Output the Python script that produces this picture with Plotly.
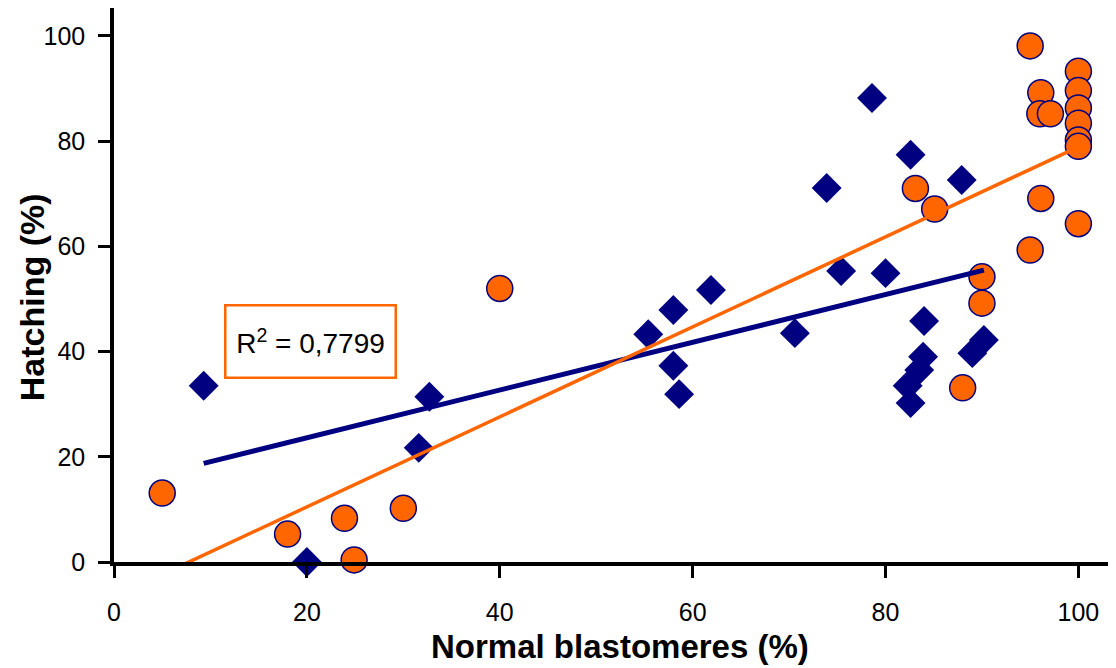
import numpy as np
import plotly.graph_objects as go

# Blue series (diamonds)
blue_x = [9.3, 20.0, 31.6, 32.7, 55.4, 58.0, 58.0, 58.6, 61.9, 70.6, 73.9, 75.4,
          78.6, 80.0, 82.6, 87.9, 84.0, 83.9, 83.5, 82.3, 82.6, 89.0, 90.2]
blue_y = [33.5, 0.0, 21.7, 31.4, 43.3, 47.9, 37.3, 31.9, 51.7, 43.5, 71.1, 55.3,
          88.2, 54.9, 77.4, 72.6, 45.8, 39.0, 36.5, 33.5, 30.2, 39.7, 42.2]

# Orange series (circles)
orange_x = [5.0, 18.0, 23.9, 24.9, 30.0, 40.0, 83.1, 85.1, 88.0, 90.0, 90.0, 95.0,
            95.0, 96.1, 96.0, 97.1, 96.1, 100, 100, 100, 100, 100, 100, 100]
orange_y = [13.1, 5.3, 8.3, 0.4, 10.2, 52.0, 71.0, 67.1, 33.1, 54.2, 49.2, 59.3,
            98.1, 89.2, 85.2, 85.2, 69.1, 93.3, 89.6, 86.3, 83.4, 80.2, 79.0, 64.3]

x_ticks = [0, 20, 40, 60, 80, 100]
y_ticks = [0, 20, 40, 60, 80, 100]
r2_label = "R<sup>2</sup> = 0,7799"

NAVY = "#000080"
ORANGE = "#FF6600"
FONT = "Liberation Sans, Arial, sans-serif"

def fit_line(xs, ys):
    a, b = np.polyfit(xs, ys, 1)
    x0, x1 = min(xs), max(xs)
    return [x0, x1], [a * x0 + b, a * x1 + b]

fig = go.Figure()

bx, by = fit_line(blue_x, blue_y)
ox, oy = fit_line(orange_x, orange_y)

fig.add_trace(go.Scatter(x=blue_x, y=blue_y, mode="markers",
                         marker=dict(symbol="diamond", size=23, color=NAVY,
                                     line=dict(width=0)),
                         cliponaxis=False, showlegend=False))
fig.add_trace(go.Scatter(x=orange_x, y=orange_y, mode="markers",
                         marker=dict(symbol="circle", size=26, color=ORANGE,
                                     line=dict(width=1.5, color=NAVY)),
                         cliponaxis=False, showlegend=False))
fig.add_trace(go.Scatter(x=bx, y=by, mode="lines",
                         line=dict(color=NAVY, width=5), showlegend=False))
fig.add_trace(go.Scatter(x=ox, y=oy, mode="lines",
                         line=dict(color=ORANGE, width=3.5), showlegend=False))

fig.add_annotation(x=20.4, y=42.0, xref="x", yref="y", text=r2_label,
                   showarrow=False, font=dict(family=FONT, size=28, color="black"),
                   bordercolor=ORANGE, borderwidth=2.5, bgcolor="white",
                   width=164, height=66, borderpad=2)

fig.add_annotation(x=-0.0818, y=0.478, xref="paper", yref="paper",
                   xanchor="center", yanchor="middle",
                   text="<b>Hatching (%)</b>", textangle=-90, showarrow=False,
                   font=dict(family=FONT, size=34, color="black"))
fig.add_annotation(x=0.505, y=-0.153, xref="paper", yref="paper",
                   xanchor="center", yanchor="middle",
                   text="<b>Normal blastomeres (%)</b>", showarrow=False,
                   font=dict(family=FONT, size=33, color="black"))

axis_common = dict(showgrid=False, zeroline=False, showline=True, linecolor="black",
                   linewidth=3.5, ticks="outside", ticklen=12, tickwidth=2.5,
                   tickcolor="black", tickfont=dict(family=FONT, size=25, color="black"))

fig.update_xaxes(range=[0, 103.9], tickvals=x_ticks, ticktext=[str(v) for v in x_ticks],
                 ticklabelstandoff=13, **axis_common)
fig.update_yaxes(range=[0, 105.3], tickvals=y_ticks, ticktext=[str(v) for v in y_ticks],
                 ticklabelstandoff=8, **axis_common)

fig.update_layout(width=1116, height=668, plot_bgcolor="white", paper_bgcolor="white",
                  margin=dict(l=106, r=8, t=0, b=114), showlegend=False)

fig.write_html("out.html")
